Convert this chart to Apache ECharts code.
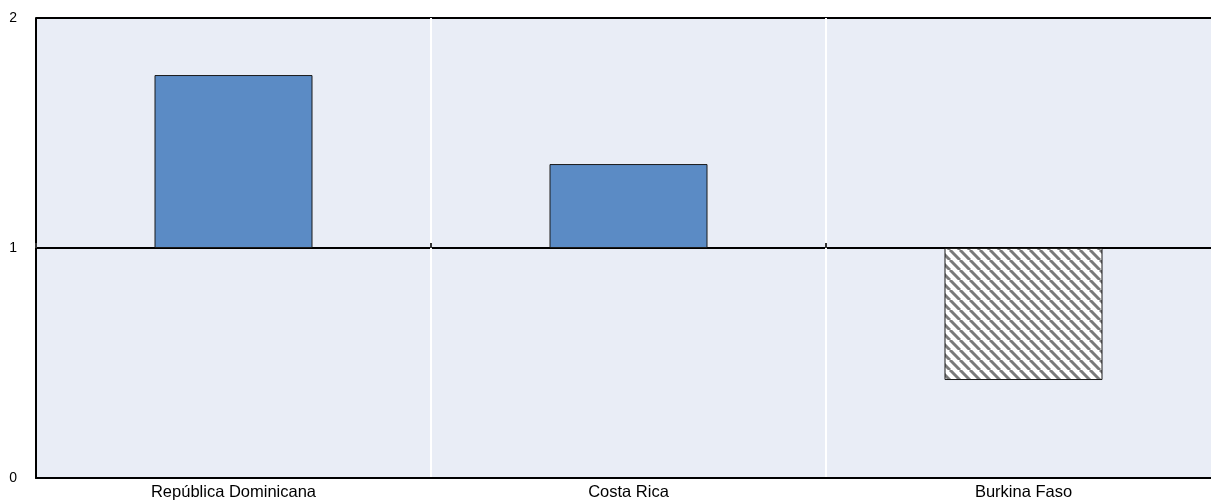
<!DOCTYPE html>
<html><head><meta charset="utf-8">
<script src="https://cdn.jsdelivr.net/npm/echarts@6/dist/echarts.min.js"></script>
<style>html,body{margin:0;padding:0;background:#fff}#c{width:1211px;height:504px}</style>
</head><body><div id="c"></div>
<script>
const categories = ['República Dominicana', 'Costa Rica', 'Burkina Faso'];
const values = [1.752, 1.365, 0.426];
const hatched = [false, false, true];
const yTicks = [0, 1, 2];
const baseline = 1;

function hatchPattern() {
  const c = document.createElement('canvas');
  c.width = 10; c.height = 10;
  const g = c.getContext('2d');
  g.fillStyle = '#ffffff'; g.fillRect(0, 0, 10, 10);
  g.strokeStyle = '#7a7a7a'; g.lineWidth = 3;
  [-10, 0, 10].forEach(k => {
    g.beginPath(); g.moveTo(k, 0); g.lineTo(k + 10, 10); g.stroke();
  });
  return c;
}
const pat = { image: hatchPattern(), repeat: 'repeat' };

const baseData = values.map(v => Math.min(v, baseline));
const deltaData = values.map((v, i) => ({
  value: Math.abs(v - baseline),
  itemStyle: hatched[i] ? { color: pat } : {}
}));

const chart = echarts.init(document.getElementById('c'), null, { renderer: 'canvas' });
chart.setOption({
  animation: false,
  backgroundColor: '#ffffff',
  grid: { left: 36, right: -10, top: 18, bottom: 26, show: true, backgroundColor: '#e9edf6', borderWidth: 0,
          containLabel: false, outerBoundsMode: 'none' },
  xAxis: [{
    type: 'category', data: categories, boundaryGap: true,
    axisLine: { show: true, lineStyle: { color: '#000', width: 2 } },
    axisTick: { show: false },
    axisLabel: { color: '#000', fontFamily: 'Liberation Sans', fontSize: 16.5, margin: 6, interval: 0 },
    splitLine: { show: true, interval: 0, lineStyle: { color: '#ffffff', width: 2 } }
  }, {
    type: 'category', data: categories, boundaryGap: true, position: 'bottom', offset: -230,
    axisLine: { show: false },
    axisTick: { show: true, inside: true, length: 5, interval: 0, lineStyle: { color: '#333', width: 2 } },
    axisLabel: { show: false },
    splitLine: { show: false }
  }],
  yAxis: {
    type: 'value', min: yTicks[0], max: yTicks[yTicks.length - 1], interval: 1,
    axisLine: { show: true, lineStyle: { color: '#000', width: 2 } },
    axisTick: { show: false },
    axisLabel: { color: '#000', fontFamily: 'Liberation Sans', fontSize: 14, margin: 19, align: 'right',
      formatter: v => yTicks.includes(v) ? String(v) : '' },
    splitLine: { show: true, lineStyle: { color: '#000', width: 2 } }
  },
  series: [{
    type: 'bar', stack: 's', data: baseData, barWidth: 158,
    itemStyle: { color: 'transparent' }, silent: true
  }, {
    type: 'bar', stack: 's', data: deltaData, barWidth: 158, z: 3,
    itemStyle: { color: '#5b8bc5', borderColor: '#1a1a1a', borderWidth: 1 }
  }]
});
</script>
</body></html>
